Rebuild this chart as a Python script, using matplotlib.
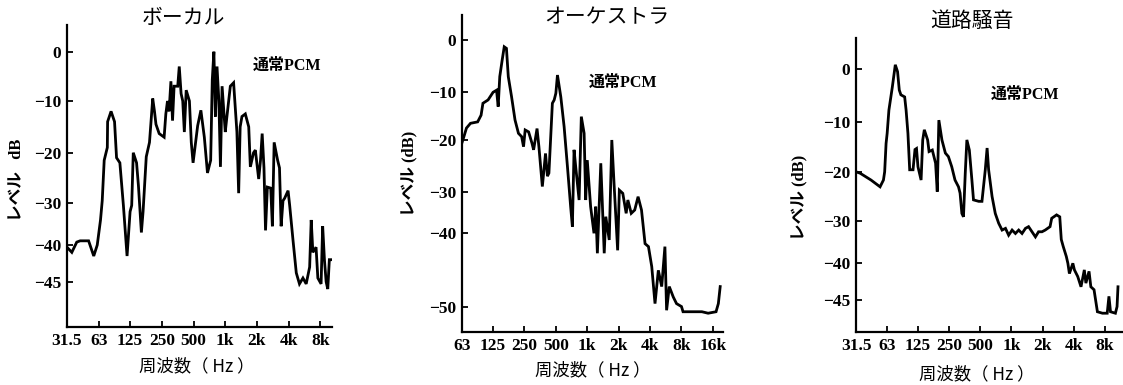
import numpy as np
import matplotlib
matplotlib.use("Agg")
import matplotlib.pyplot as plt

plt.rcParams['font.family'] = ['Liberation Serif', 'Noto Sans CJK JP']

# ---- data: (frequency Hz, level dB) ----
vocal_f = [31.5, 35, 39, 42, 50.5, 56.5, 61, 65.5, 68, 71, 76, 76.5, 82.5, 89, 93, 100, 108, 117,
           125, 129.5, 134, 144, 150, 160, 166, 178, 191, 205, 213, 220, 236, 263, 273, 283, 293,
           305, 316, 327, 354, 366, 381, 395, 409, 426, 457, 476, 495, 529, 547, 587, 633, 678,
           727, 753, 780, 806, 835, 870, 900, 933, 1000, 1037, 1117, 1200, 1290, 1340, 1385, 1440,
           1550, 1670, 1730, 1855, 1930, 2076, 2160, 2240, 2330, 2410, 2510, 2700, 2800, 2910, 3140,
           3270, 3390, 3530, 3660, 3945, 4085, 4400, 4720, 5060, 5460, 5860, 6320, 6540, 6780, 7270,
           7560, 8115, 8400, 8730, 9060, 9390, 9720, 10060]
vocal_db = [-40.3, -41, -39.3, -39, -39, -41.5, -40, -34, -29.5, -21.5, -19, -14, -12, -14, -21, -22,
            -30.5, -41.5, -32, -30.5, -20, -22, -26.5, -37, -32, -20.8, -18, -9.5, -12, -14.5, -16.3,
            -17, -12.5, -10, -12, -6, -13.8, -7, -7, -3, -8.5, -10, -16, -7.8, -10, -18, -22, -17.2,
            -14.8, -11.8, -17, -24, -21.5, -5.7, 0, -13, -3, -10, -22.8, -7, -16, -13, -7, -6.3, -16,
            -28, -15, -13, -12.5, -15, -22.8, -20, -19.5, -25.2, -21.5, -16.3, -23, -36.5, -26.8, -27,
            -35.5, -18, -21.5, -23, -35.5, -29.5, -29, -27.5, -30.5, -39, -43.8, -45.3, -44.5, -45.3,
            -43, -34, -41, -40.3, -44.5, -45.3, -35.5, -42, -45, -46, -42, -42]

orch_f = [63, 65.5, 69.5, 76, 89, 96, 100, 112, 125, 135, 140, 145, 153, 160, 168, 175, 188, 203, 219,
          235, 245, 254, 274, 295, 306, 330, 344, 371, 398, 415, 429, 463, 482, 500, 518, 558, 600,
          646, 693, 720, 747, 775, 835, 877, 933, 966, 1000, 1077, 1160, 1205, 1250, 1348, 1454,
          1505, 1624, 1719, 1812, 1955, 2030, 2190, 2360, 2450, 2640, 2850, 3070, 3310, 3580, 3860,
          4150, 4460, 4800, 5170, 5550, 5760, 6110, 6670, 7170, 8000, 8280, 10200, 12550, 14400,
          17150, 18050, 18800]
orch_db = [-20.5, -19.4, -17.5, -16.5, -16.2, -14.8, -12.3, -11.6, -10, -9.6, -13, -7, -3.8, -1.3, -1.6, -7,
           -10.9, -15.8, -18.6, -19.3, -21.3, -17.9, -18.3, -20.6, -21.9, -17.6, -21.3, -29, -22.6,
           -27, -26.4, -12.3, -11.6, -10.2, -6.7, -11, -17.2, -25.2, -33.6, -38.4, -21.9, -25.2, -32,
           -15.1, -18.6, -32, -23.9, -33.6, -40, -33.6, -42.7, -24.5, -42.7, -36, -40.9, -20, -29,
           -42.3, -29.7, -30.4, -35.2, -32, -35.2, -34.4, -31.2, -34.4, -41.4, -41.8, -44.5, -49.5,
           -45, -47.2, -41.8, -50.4, -47.2, -48.6, -49.5, -49.9, -50.6, -50.6, -50.6, -50.8, -50.6,
           -49.5, -47.2]

road_f = [31.5, 34.6, 44, 53.8, 58, 59.6, 61.5, 63, 65.5, 70.7, 75.5, 79.4, 82.5, 85.5, 93, 96, 100,
          104, 112, 117, 121, 125, 134, 139, 144, 155, 160, 172, 185, 192, 199, 213, 230, 246, 265,
          285, 308, 319, 332, 344, 358, 371, 392, 415, 430, 483, 519, 559, 582, 602, 650, 698, 753,
          812, 876, 940, 1015, 1093, 1175, 1266, 1366, 1464, 1580, 1705, 1828, 1972, 2120, 2360,
          2450, 2730, 2930, 3030, 3160, 3390, 3510, 3630, 3920, 4060, 4370, 4700, 5060, 5240, 5620,
          5850, 6280, 6770, 7570, 8420, 8750, 9060, 10100, 10480, 10700]
road_db = [-19.9, -20.2, -21.6, -23, -21.6, -19.9, -14.3, -12.3, -7.8, -3.4, 0.8, -0.5, -4, -4.9, -5.3,
           -7.8, -12.3, -19.5, -19.5, -15.5, -15.3, -18.9, -21.6, -13.6, -11.6, -13.6, -15.9, -15.6,
           -18.2, -24, -9.7, -13.6, -16.2, -16.9, -18.9, -21.6, -23, -24.3, -28.5, -29.2, -20.2,
           -13.6, -15.6, -21.6, -25.7, -26, -26, -19.5, -15.2, -19.5, -25, -28.5, -30.6, -32.2, -31.8,
           -33.4, -32.2, -33, -32.2, -33, -31.8, -31.4, -32.6, -33.8, -32.6, -32.6, -32.2, -31.4,
           -29.5, -28.8, -29.2, -34.4, -36, -38.4, -40, -41.4, -40, -40.9, -41.8, -43.2, -40.9, -42.7,
           -41.1, -43.2, -43.6, -46.6, -46.8, -46.8, -44.5, -46.6, -46.8, -45.9, -43.2]

titles = ["ボーカル", "オーケストラ", "道路騒音"]
ylabels = ["レベル   dB", "レベル (dB)", "レベル (dB)"]
xticks_a = [31.5, 63, 125, 250, 500, 1000, 2000, 4000, 8000]
xlabels_a = ["31.5", "63", "125", "250", "500", "1k", "2k", "4k", "8k"]
xticks_b = [63, 125, 250, 500, 1000, 2000, 4000, 8000, 16000]
xlabels_b = ["63", "125", "250", "500", "1k", "2k", "4k", "8k", "16k"]
yticks_a = [0, -10, -20, -30, -40, -45]
yticks_b = [0, -10, -20, -30, -40, -50]

W, H = 1123, 385
fig = plt.figure(figsize=(W / 100, H / 100), dpi=100)


def scale_funcs(db_ticks, px_ticks):
    # the printed dB grid is not evenly spaced, follow the tick marks
    db = np.array(db_ticks[::-1], float)
    pos = -np.array(px_ticks[::-1], float)
    s0 = (pos[1] - pos[0]) / (db[1] - db[0])
    s1 = (pos[-1] - pos[-2]) / (db[-1] - db[-2])
    db = np.concatenate([[db[0] - 200], db, [db[-1] + 200]])
    pos = np.concatenate([[pos[0] - 200 * s0], pos, [pos[-1] + 200 * s1]])
    return (lambda y: np.interp(y, db, pos)), (lambda p: np.interp(p, pos, db))


panels = [
    dict(f=vocal_f, db=vocal_db, box=(67, 332, 25, 327), xl=(31.5, 10300),
         xt=xticks_a, xtl=xlabels_a, yt=yticks_a, ypx=[51.7, 101, 152.7, 203.3, 245, 281.7],
         title=(183, 18), xlab=(197, 366), ylab=(17, 180), pcm=(287, 66)),
    dict(f=orch_f, db=orch_db, box=(462, 723, 15, 332), xl=(63, 20000),
         xt=xticks_b, xtl=xlabels_b, yt=yticks_b, ypx=[40, 92.3, 140, 191.7, 233.3, 307.3],
         title=(607, 17), xlab=(593, 370), ylab=(410, 173), pcm=(623, 83)),
    dict(f=road_f, db=road_db, box=(856, 1122, 38, 332), xl=(31.5, 11700),
         xt=xticks_a, xtl=xlabels_a, yt=yticks_a, ypx=[69, 121.7, 172.3, 220.7, 263.3, 300],
         title=(972, 21), xlab=(977, 374), ylab=(800, 197), pcm=(1025, 95)),
]

for i, p in enumerate(panels):
    l, r, t, b = p['box']
    ax = fig.add_axes([l / W, 1 - b / H, (r - l) / W, (b - t) / H])
    fwd, inv = scale_funcs(p['yt'], p['ypx'])
    ax.set_yscale('function', functions=(fwd, inv))
    ax.set_xscale('log', base=2)
    ax.plot(p['f'], p['db'], color='black', lw=2.0, solid_joinstyle='miter')
    ax.set_xlim(*p['xl'])
    ax.set_ylim(inv(-b), inv(-t))
    ax.set_xticks(p['xt'])
    ax.set_xticklabels(p['xtl'])
    ax.xaxis.set_minor_locator(matplotlib.ticker.NullLocator())
    ax.set_yticks(p['yt'])
    ax.set_yticklabels(["0" if v == 0 else "\u2212%d" % -v for v in p['yt']])
    ax.yaxis.set_minor_locator(matplotlib.ticker.NullLocator())
    for s in ['top', 'right']:
        ax.spines[s].set_visible(False)
    for s in ['left', 'bottom']:
        ax.spines[s].set_linewidth(1.6)
    ax.tick_params(direction='in', length=4, width=1.3, labelsize=12.5, pad=4)
    for lab in ax.get_xticklabels() + ax.get_yticklabels():
        lab.set_fontweight('bold')

    fig.text(p['title'][0] / W, 1 - p['title'][1] / H, titles[i], ha='center', va='center',
             fontsize=15, family=['Noto Sans CJK JP'])
    fig.text(p['xlab'][0] / W, 1 - p['xlab'][1] / H, "周波数（ Hz ）", ha='center', va='center',
             fontsize=12.5, family=['Noto Sans CJK JP'])
    fig.text(p['ylab'][0] / W, 1 - p['ylab'][1] / H, ylabels[i], ha='center', va='center',
             rotation=90, fontsize=12, fontweight='bold', family=['Liberation Serif', 'Noto Sans CJK JP'])
    fig.text(p['pcm'][0] / W, 1 - p['pcm'][1] / H, "通常PCM", ha='center', va='center',
             fontsize=11.5, fontweight='bold', family=['Liberation Serif', 'Noto Sans CJK JP'])

fig.savefig("out.png", dpi=100)
